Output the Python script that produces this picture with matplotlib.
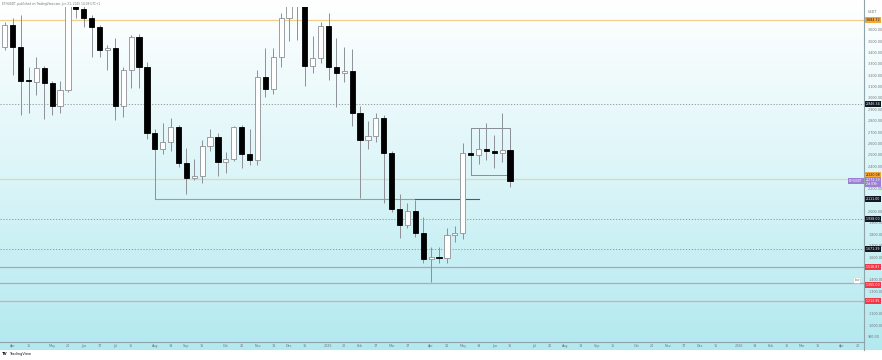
#
# Weekly ETHUSDT candles with drawn levels, TradingView style snapshot
#
import numpy as np
import pandas as pd
import matplotlib
matplotlib.use('Agg')
import matplotlib.pyplot as plt
from matplotlib import transforms
from matplotlib.colors import LinearSegmentedColormap

matplotlib.rc('font', family='DejaVu Sans', size=2.5)

# weekly bars, first one is the week of 25 Mar 2024
start = pd.Timestamp('2024-03-25')
opens = [3448, 3641, 3448, 3160, 3143, 3263, 3131, 2929, 3070, 3825,
         3783, 3703, 3624, 3421, 3438, 2929, 3246, 3535, 3272, 2689,
         2553, 2611, 2742, 2425, 2296, 2313, 2580, 2654, 2436, 2462,
         2747, 2507, 2454, 3184, 3078, 3360, 3703, 3990, 3950, 3281,
         3353, 3633, 3269, 3217, 3237, 2865, 2630, 2665, 2821, 2513,
         2023, 1885, 2005, 1810, 1581, 1604, 1590, 1794, 1812, 2513,
         2498, 2548, 2533, 2513, 2542]
highs = [3668, 3700, 3729, 3272, 3360, 3285, 3150, 3150, 3975, 3890,
         3840, 3730, 3641, 3465, 3526, 3272, 3553, 3563, 3316, 2725,
         2782, 2823, 2762, 2562, 2461, 2630, 2724, 2689, 2522, 2753,
         2760, 2724, 3246, 3439, 3439, 3747, 4090, 4110, 4000, 3544,
         3671, 3745, 3524, 3451, 3430, 2930, 2800, 2867, 2850, 2533,
         2152, 2073, 2104, 1955, 1692, 1692, 1853, 1874, 2606, 2736,
         2735, 2782, 2674, 2870, 2674]
lows = [3421, 3201, 2850, 2867, 3026, 2815, 2850, 2870, 3052, 3703,
        3624, 3360, 3360, 3246, 2810, 2835, 3087, 3087, 2638, 2111,
        2506, 2536, 2395, 2152, 2278, 2254, 2536, 2313, 2337, 2445,
        2381, 2410, 2410, 3008, 3035, 3272, 3500, 3509, 3105, 3222,
        3305, 3158, 2922, 3143, 2750, 2120, 2550, 2615, 2073, 1995,
        1765, 1853, 1780, 1545, 1384, 1545, 1545, 1736, 1757, 2410,
        2420, 2454, 2381, 2439, 2214]
closes = [3641, 3448, 3152, 3145, 3263, 3131, 2929, 3070, 3825, 3783,
          3703, 3624, 3421, 3438, 2929, 3246, 3535, 3272, 2689, 2553,
          2611, 2742, 2425, 2296, 2313, 2580, 2654, 2436, 2462, 2747,
          2507, 2454, 3184, 3078, 3360, 3703, 3990, 3950, 3281, 3353,
          3633, 3269, 3217, 3237, 2865, 2630, 2665, 2821, 2513, 2023,
          1885, 2005, 1810, 1581, 1604, 1590, 1794, 1812, 2513, 2498,
          2548, 2533, 2513, 2542, 2272]

# time axis labels (date of the bar, text)
tick_dates = ['2024-04-01', '2024-04-15', '2024-05-06', '2024-05-20', '2024-06-03',
              '2024-06-17', '2024-07-01', '2024-07-15', '2024-08-05', '2024-08-19',
              '2024-09-02', '2024-09-16', '2024-10-07', '2024-10-21', '2024-11-04',
              '2024-11-18', '2024-12-02', '2024-12-16', '2025-01-06', '2025-01-20',
              '2025-02-03', '2025-02-17', '2025-03-03', '2025-03-17', '2025-04-07',
              '2025-04-21', '2025-05-05', '2025-05-19', '2025-06-02', '2025-06-16',
              '2025-07-07', '2025-07-21', '2025-08-04', '2025-08-18', '2025-09-01',
              '2025-09-15', '2025-10-06', '2025-10-20', '2025-11-03', '2025-11-17',
              '2025-12-01', '2025-12-15', '2026-01-05', '2026-01-19', '2026-02-02',
              '2026-02-16', '2026-03-02', '2026-03-16', '2026-04-06', '2026-04-20']
tick_text = ['Apr', '15', 'May', '20', 'Jun', '17', 'Jul', '15', 'Aug', '19',
             'Sep', '16', 'Oct', '21', 'Nov', '18', 'Dec', '16', '2025', '20',
             'Feb', '17', 'Mar', '17', 'Apr', '21', 'May', '19', 'Jun', '16',
             'Jul', '21', 'Aug', '18', 'Sep', '15', 'Oct', '20', 'Nov', '17',
             'Dec', '15', '2026', '19', 'Feb', '16', 'Mar', '16', 'Apr', '20']

# scale ticks that are not hidden under a coloured label
price_ticks = [900, 1000, 1100, 1300, 1400, 1600, 1700, 1800, 1900,
               2000, 2200, 2400, 2500, 2600, 2700, 2800, 2900, 3000, 3100,
               3200, 3300, 3400, 3500, 3600]

# horizontal levels across the chart
solid_levels = [3684.7, 2287.0, 1516.0, 1372.0, 1214.0]
solid_colors = ['#f3cf8c', '#dcdca8', '#a7a9ad', '#b0a9ad', '#d9a7ae']
dotted_levels = [2946.3, 1938.0, 1671.0]

# August low ray, its continuation from the March high, and the range box
aug_low = 2111.0
ray_weeks = [18, 51, 59]
box_weeks = [58, 63]
box_top, box_bottom = 2733.0, 2320.0

# price-scale labels: price, text, background, text colour
axis_labels = [
    (3684.7, '3,684.72', '#f7a738', '#131722'),
    (2946.3, '2,946.34', '#131722', '#ffffff'),
    (2320.0, '2,320.08', '#f7a738', '#131722'),
    (2262.0, '2,272.19\n2d 09h', '#9c7fd4', '#ffffff'),
    (2111.0, '2,111.00', '#131722', '#ffffff'),
    (1938.0, '1,938.00', '#131722', '#ffffff'),
    (1671.0, '1,671.39', '#131722', '#ffffff'),
    (1516.0, '1,516.87', '#f23645', '#ffffff'),
    (1355.0, '1,355.00', '#f23645', '#ffffff'),
    (1214.0, '1,213.95', '#f23645', '#ffffff'),
]

W, H = 882, 360
fig = plt.figure(figsize=(W / 100, H / 100), dpi=100)

# gradient background of the chart pane
bg = fig.add_axes([0, 10 / H, 1, 350 / H])
grad = np.linspace(0, 1, 256).reshape(-1, 1)
cmap = LinearSegmentedColormap.from_list('bg', ['#ffffff', '#dcf5f8', '#b2e9ef'])
bg.imshow(grad, aspect='auto', cmap=cmap, extent=[0, 1, 0, 1], origin='upper')
bg.axis('off')

ax = fig.add_axes([0, 18 / H, 864 / W, 335 / H])
ax.patch.set_alpha(0)

n = len(opens)
x = np.arange(n) - 1  # week 0 is 1 Apr 2024
o = np.array(opens, float)
h = np.array(highs, float)
l = np.array(lows, float)
c = np.array(closes, float)
up = c >= o

wick = '#8d9096'
ax.vlines(x, l, h, color=wick, lw=0.7, zorder=3)
bw = 0.66
ax.bar(x[up], (c - o)[up], bw, bottom=o[up], color='#ffffff', edgecolor=wick,
       lw=0.6, zorder=4)
ax.bar(x[~up], (o - c)[~up], bw, bottom=c[~up], color='#000000', edgecolor='#000000',
       lw=0.6, zorder=4)

for lev, col in zip(solid_levels, solid_colors):
    ax.axhline(lev, color=col, lw=0.9, zorder=2)
for lev in dotted_levels:
    ax.axhline(lev, color='#8a8d93', lw=0.6, ls=(0, (1.5, 2)), zorder=2)

ax.plot(ray_weeks[:2], [aug_low, aug_low], color='#9a9da2', lw=0.8, zorder=2)
ax.plot(ray_weeks[1:], [aug_low, aug_low], color='#3d5a9c', lw=0.8, zorder=2)
b0, b1 = box_weeks
ax.plot([b0, b1, b1, b0, b0], [box_top, box_top, box_bottom, box_bottom, box_top],
        color='#8a8d93', lw=0.7, zorder=2)

ax.set_xlim(-1.61, 107.83)
ax.set_ylim(853, 3800)

tick_idx = [(pd.Timestamp(d) - start).days / 7 - 1 for d in tick_dates]
ax.set_xticks(tick_idx)
ax.set_xticklabels(tick_text)
ax.tick_params(axis='x', length=0, pad=1.6, labelsize=2.4, labelcolor='#6f7378')
ax.yaxis.tick_right()
ax.set_yticks(price_ticks)
ax.set_yticklabels(['{:,.2f}'.format(p) for p in price_ticks])
ax.tick_params(axis='y', length=0, pad=3, labelsize=2.4, labelcolor='#6f7378')
for s in ['top', 'left', 'right']:
    ax.spines[s].set_visible(False)
ax.spines['bottom'].set_color('#8fa3a8')
ax.spines['bottom'].set_linewidth(0.8)

# right scale border runs through the time-axis strip
fig.add_artist(plt.Line2D([864 / W, 864 / W], [10 / H, 1], color='#8fa3a8', lw=0.8))

tr = transforms.blended_transform_factory(fig.transFigure, ax.transData)
for price, txt, bgc, fc in axis_labels:
    ax.text(865.5 / W, price, txt, transform=tr, fontsize=2.3, color=fc,
            va='center', ha='left', zorder=10, clip_on=False, linespacing=1.0,
            bbox=dict(boxstyle='square,pad=0.35', fc=bgc, ec='none'))
ax.text(856 / W, 2272, 'ETHUSDT', transform=tr, fontsize=2.1, color='#ffffff',
        va='center', ha='center', clip_on=False, zorder=10,
        bbox=dict(boxstyle='square,pad=0.3', fc='#9c7fd4', ec='none'))
# text tag sitting on the 1,372 level near the scale
ax.text(857 / W, 1395, 'Low', transform=tr, fontsize=2.0, color='#6f7378',
        va='center', ha='center', clip_on=False, zorder=10,
        bbox=dict(boxstyle='round,pad=0.3', fc='#ffffff', ec='#c4c7cc', lw=0.3))

fig.text(868 / W, 1 - 12 / H, 'USDT', fontsize=2.4, color='#6f7378', va='center')
fig.text(2 / W, 1 - 4 / H, 'ETHUSDT, published on TradingView.com, Jun 21, 2025 14:09 UTC+1',
         fontsize=2.1, color='#6f7378', va='center')
fig.text(2 / W, 1 - 354 / H, 'TV', fontsize=2.8, color='#131722', va='center',
         fontweight='bold')
fig.text(9 / W, 1 - 354 / H, 'TradingView', fontsize=2.6, color='#131722', va='center')

fig.savefig('out.png', dpi=100)
